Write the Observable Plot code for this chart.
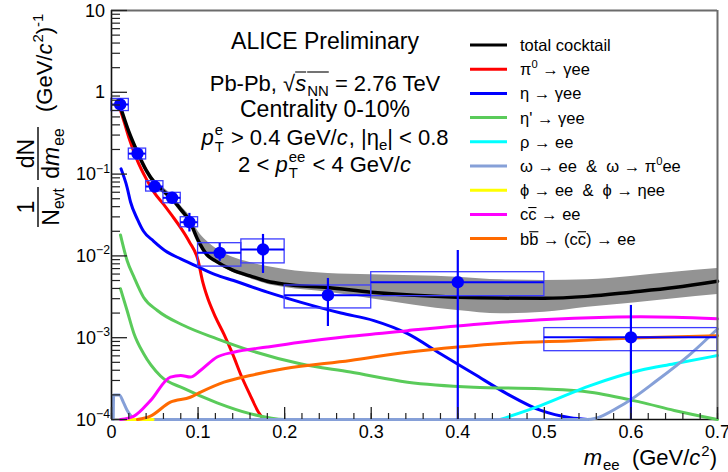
<!DOCTYPE html>
<html><head><meta charset="utf-8">
<script src="https://cdn.jsdelivr.net/npm/d3@7"></script>
<script src="https://cdn.jsdelivr.net/npm/@observablehq/plot@0.6"></script>
<style>body{margin:0;background:#fff}svg{display:block}</style>
</head><body><div id="chart"></div>
<script>
// ---------- data ----------
const xDomain = [0, 0.7];
const yDomain = [1e-4, 10];
const majorX = [0, 0.1, 0.2, 0.3, 0.4, 0.5, 0.6, 0.7];
const majorY = [1e-4, 1e-3, 1e-2, 1e-1, 1, 10];
const yTickLabels = ["10^{−4}", "10^{−3}", "10^{−2}", "10^{−1}", "1", "10"];

// data points
const ptX    = [0.01, 0.03, 0.05, 0.07, 0.09, 0.125, 0.175, 0.25, 0.4, 0.6];
const ptXlo  = [0, 0.02, 0.04, 0.06, 0.08, 0.1, 0.15, 0.2, 0.3, 0.5];
const ptXhi  = [0.02, 0.04, 0.06, 0.08, 0.1, 0.15, 0.2, 0.3, 0.5, 0.7];
const ptY    = [0.71, 0.178, 0.0705, 0.0513, 0.0258, 0.0109, 0.0120, 0.00331, 0.00477, 0.00101];
const statLo = [0.68, 0.170, 0.067, 0.049, 0.0196, 0.0086, 0.0061, 0.00137, 0.00005, 0.00005];
const statHi = [0.74, 0.186, 0.074, 0.054, 0.0331, 0.0142, 0.0183, 0.0053, 0.01164, 0.00248];
const sysLo  = [0.59, 0.151, 0.0612, 0.044, 0.0224, 0.0074, 0.0081, 0.00228, 0.00322, 0.000684];
const sysHi  = [0.83, 0.205, 0.0819, 0.059, 0.0297, 0.0143, 0.0159, 0.00435, 0.00632, 0.00131];

// total cocktail and its uncertainty band
const totalX = [0.01,0.02,0.03,0.04,0.05,0.06,0.07,0.08,0.09,0.1,0.11,0.12,0.14,0.16,0.18,0.2,0.25,0.3,0.35,0.4,0.45,0.5,0.55,0.6,0.65,0.7];
const totalY = [0.68,0.33,0.185,0.112,0.078,0.062,0.05,0.037,0.027,0.0155,0.0104,0.0087,0.0067,0.0057,0.0049,0.0045,0.0041,0.0036,0.0033,0.00313,0.00305,0.00303,0.0032,0.0036,0.0041,0.0049];
const bandHi = [0.74,0.36,0.20,0.122,0.085,0.068,0.055,0.041,0.031,0.020,0.0152,0.0125,0.0096,0.0083,0.0074,0.0068,0.0061,0.0059,0.0057,0.0055,0.0051,0.0050,0.0051,0.0056,0.0063,0.0070];
const bandLo = [0.62,0.30,0.17,0.103,0.072,0.057,0.046,0.034,0.025,0.0148,0.0100,0.0083,0.0063,0.0053,0.0045,0.0041,0.0036,0.0030,0.0025,0.00215,0.00196,0.00205,0.00236,0.00264,0.0030,0.00337];

// cocktail components
const pi0X = [0.01,0.015,0.02,0.03,0.04,0.05,0.06,0.07,0.08,0.09,0.1,0.105,0.11,0.12,0.13,0.14,0.15,0.16,0.17,0.176];
const pi0Y = [0.62,0.42,0.28,0.145,0.088,0.058,0.043,0.031,0.022,0.0148,0.0088,0.005,0.0033,0.0018,0.0011,0.00063,0.00034,0.0002,0.000122,0.0001];
const etaX = [0.011,0.018,0.022,0.03,0.037,0.0485,0.064,0.08,0.103,0.12,0.141,0.18,0.218,0.265,0.303,0.342,0.38,0.4185,0.457,0.496,0.53,0.55];
const etaY = [0.116,0.069,0.0456,0.028,0.020,0.0152,0.0112,0.0092,0.0071,0.0059,0.005,0.0036,0.00272,0.002,0.00162,0.00112,0.000636,0.000362,0.000206,0.000129,0.000105,0.0001];
const etaPX = [0.0104,0.018,0.026,0.037,0.053,0.0835,0.122,0.16,0.218,0.276,0.342,0.4185,0.496,0.553,0.611,0.65,0.7];
const etaPY = [0.018,0.0088,0.0055,0.00313,0.00215,0.00141,0.00097,0.0007,0.00048,0.00038,0.000286,0.000248,0.000237,0.000216,0.000163,0.000129,0.0001];
const etaP2X = [0.0104,0.018,0.026,0.037,0.0566,0.0835,0.122,0.16,0.2,0.21];
const etaP2Y = [0.00396,0.00215,0.00112,0.00064,0.00034,0.00024,0.00016,0.000118,0.0001,0.0001];
const rhoX = [0.449,0.4956,0.553,0.611,0.65,0.7];
const rhoY = [0.0001,0.000148,0.00026,0.0004,0.00048,0.000605];
const omegaX = [0.002,0.0025,0.009,0.014,0.018,0.022,0.026,0.1,0.3,0.5,0.5495,0.592,0.63,0.669,0.7];
const omegaY = [0.0001,0.0002,0.0002,0.00016,0.00013,0.000112,0.0001,0.0001,0.0001,0.0001,0.0001,0.000155,0.0003,0.000636,0.00128];
const phiX = [0.015,0.048];
const phiY = [0.0001,0.0001];
const ccX = [0.0104,0.026,0.045,0.068,0.08,0.091,0.103,0.122,0.141,0.18,0.218,0.276,0.342,0.4185,0.496,0.573,0.611,0.65,0.7];
const ccY = [0.0001,0.00011,0.00017,0.00033,0.000345,0.00033,0.0004,0.00058,0.000665,0.00077,0.00088,0.00104,0.00122,0.00145,0.00166,0.00178,0.0018,0.00178,0.0017];
const bbX = [0.03,0.045,0.068,0.091,0.103,0.13,0.16,0.199,0.276,0.342,0.4,0.457,0.534,0.611,0.7];
const bbY = [0.0001,0.00011,0.000163,0.000187,0.000216,0.000286,0.000345,0.000417,0.000527,0.000665,0.00077,0.000857,0.00092,0.001,0.00106];

// legend
const legendLabels = ["total cocktail", "π^{0} → γee", "η → γee", "η' → γee", "ρ → ee",
  "ω → ee  &  ω → π^{0}ee", "ϕ → ee  &  ϕ → ηee", "c~{c} → ee", "b~{b} → (c~{c}) → ee"];
const legendColors = ["#000000", "#ff0000", "#0000ff", "#5acb5a", "#00ffff", "#86a0d8", "#ffff00", "#ff00ff", "#ff6a00"];

const infoLines = ["ALICE Preliminary", "Pb-Pb, √~{*{s}_{NN}} = 2.76 TeV", "Centrality 0-10%",
  "*{p}@{e|T} > 0.4 GeV/*{c}, |η_{e}| < 0.8", "2 < *{p}@{ee|T} < 4 GeV/*{c}"];

// ---------- build tables ----------
const zip = (xs, ys) => xs.map((x, i) => ({x, y: ys[i]}));
const points = ptX.map((x, i) => ({x, y: ptY[i], xlo: ptXlo[i], xhi: ptXhi[i], slo: statLo[i], shi: statHi[i], ylo: sysLo[i], yhi: sysHi[i]}));
const band = totalX.map((x, i) => ({x, lo: bandLo[i], hi: bandHi[i]}));
const curves = [
  {d: zip(pi0X, pi0Y), c: legendColors[1]},
  {d: zip(etaX, etaY), c: legendColors[2]},
  {d: zip(etaPX, etaPY), c: legendColors[3]},
  {d: zip(etaP2X, etaP2Y), c: legendColors[3]},
  {d: zip(rhoX, rhoY), c: legendColors[4]},
  {d: zip(omegaX, omegaY), c: legendColors[5]},
  {d: zip(phiX, phiY), c: legendColors[6]},
  {d: zip(ccX, ccY), c: legendColors[7]},
  {d: zip(bbX, bbY), c: legendColors[8]},
  {d: zip(totalX, totalY), c: legendColors[0], w: 3.5}
];
const minorX = d3.range(0, 0.7001, 0.02).map(v => +v.toFixed(3));
const minorY = [];
for (let k = -4; k <= 0; k++) for (let m = 2; m <= 9; m++) minorY.push(m * Math.pow(10, k));

const FONT = "'Liberation Sans', Arial, Helvetica, sans-serif";
const blue = "#0000ff";

const plot = Plot.plot({
  width: 728, height: 472,
  marginLeft: 111, marginRight: 11, marginTop: 10, marginBottom: 53,
  x: {domain: xDomain, axis: null},
  y: {type: "log", domain: yDomain, axis: null},
  style: {fontFamily: FONT, background: "white", color: "black"},
  marks: [
    Plot.ruleY([yDomain[0]], {stroke: "#111", strokeWidth: 1.4}),
    Plot.areaY(band, {x: "x", y1: "lo", y2: "hi", fill: "#939393", curve: "monotone-x"}),
    ...curves.map(c => Plot.line(c.d, {x: "x", y: "y", stroke: c.c, strokeWidth: c.w || 3, curve: "monotone-x"})),
    Plot.rect(points, {x1: "xlo", x2: "xhi", y1: "ylo", y2: "yhi", fill: "none", stroke: "#3c3cff", strokeWidth: 1.3}),
    Plot.ruleY(points, {x1: "xlo", x2: "xhi", y: "y", stroke: blue, strokeWidth: 2}),
    Plot.ruleX(points, {x: "x", y1: "slo", y2: "shi", stroke: blue, strokeWidth: 2.2, clip: true}),
    Plot.dot(points, {x: "x", y: "y", r: 6.2, fill: blue}),
    // frame
    Plot.ruleX([xDomain[1]], {stroke: "#6b6b6b", strokeWidth: 2}),
    Plot.ruleY([yDomain[1]], {stroke: "#6b6b6b", strokeWidth: 2}),
    Plot.ruleX([xDomain[0]], {stroke: "#111", strokeWidth: 1.6}),
    // ticks inside the frame
    Plot.axisX({ticks: majorX, tickSize: 12, dy: -12, tickFormat: () => "", stroke: "#222", strokeWidth: 1.3}),
    Plot.axisX({ticks: minorX, tickSize: 6, dy: -6, tickFormat: () => "", stroke: "#222", strokeWidth: 1.2}),
    Plot.axisY({ticks: majorY, tickSize: 16, dx: 16, tickFormat: () => "", stroke: "#222", strokeWidth: 1.3}),
    Plot.axisY({ticks: minorY, tickSize: 9, dx: 9, tickFormat: () => "", stroke: "#222", strokeWidth: 1.2}),
    // x tick labels
    Plot.axisX({ticks: majorX, tickSize: 0, tickPadding: 6, fontSize: 18,
      tickFormat: d => d === 0 ? "0" : d3.format(".1f")(d)})
  ]
});
document.getElementById("chart").appendChild(plot);

// ---------- rich text helper ----------
function parseRich(str) {
  const segs = []; let i = 0;
  function parse(style) {
    let buf = "";
    const flush = () => { if (buf) { segs.push({t: buf, ...style}); buf = ""; } };
    while (i < str.length) {
      const c = str[i];
      if (c === "}") { i++; flush(); return; }
      if ("^_~*".includes(c) && str[i + 1] === "{") {
        flush(); i += 2;
        const ns = {...style};
        if (c === "^") ns.sup = true;
        if (c === "_") ns.sub = true;
        if (c === "~") ns.ol = true;
        if (c === "*") ns.italic = true;
        parse(ns); continue;
      }
      if (c === "@" && str[i + 1] === "{") {
        flush(); i += 2;
        const j = str.indexOf("}", i);
        segs.push({stack: str.slice(i, j).split("|"), ...style});
        i = j + 1; continue;
      }
      buf += c; i++;
    }
    flush();
  }
  parse({});
  return segs;
}
function drawRich(parent, str, {x = 0, y = 0, size = 20, anchor = "start", fill = "#000", olY = -0.8}) {
  const segs = parseRich(str);
  const g = parent.append("g").attr("font-family", FONT).attr("fill", fill).attr("text-anchor", "start");
  let cx = 0;
  const sc = 0.68;
  const mk = (tx, yy, fs, it) => g.append("text").attr("xml:space", "preserve")
      .attr("text-anchor", "start")
      .attr("x", cx).attr("y", yy).attr("font-size", fs)
      .attr("font-style", it ? "italic" : null).text(tx);
  for (const s of segs) {
    if (s.stack) {
      const a = mk(s.stack[0], -0.45 * size, size * sc, false);
      const b = mk(s.stack[1], 0.3 * size, size * sc, false);
      cx += Math.max(a.node().getComputedTextLength(), b.node().getComputedTextLength()) + 1;
      continue;
    }
    const small = s.sub || s.sup;
    const fs = small ? size * sc : size;
    const yy = s.sup ? -0.42 * size : s.sub ? 0.22 * size : 0;
    const t = mk(s.t, yy, fs, s.italic);
    const w = t.node().getComputedTextLength();
    if (s.ol) g.append("line").attr("x1", cx).attr("x2", cx + w)
      .attr("y1", olY * size).attr("y2", olY * size).attr("stroke", fill).attr("stroke-width", 1.1);
    cx += w + (s.italic ? 1 : 0);
  }
  const shift = anchor === "middle" ? -cx / 2 : anchor === "end" ? -cx : 0;
  g.attr("transform", `translate(${x + shift},${y})`);
  return g;
}

const svg = d3.select(plot);
const ys = plot.scale("y");

// y tick labels
majorY.forEach((v, i) => {
  const lab = yTickLabels[i];
  const pow = lab.includes("^");
  drawRich(svg, lab, {x: pow ? 110 : 105, y: ys.apply(v) + 6.5, size: 18, anchor: "end"});
});

// axis titles
drawRich(svg, "*{m}_{ee}  (GeV/*{c}^{2})", {x: 717, y: 465, size: 22, anchor: "end"});
const yt = svg.append("g").attr("transform", "translate(38,227) rotate(-90)");
drawRich(yt, "1", {x: 20, y: -4, size: 23, anchor: "middle"});
yt.append("line").attr("x1", 0).attr("x2", 40).attr("stroke", "#000").attr("stroke-width", 1.4);
drawRich(yt, "N_{evt}", {x: 20, y: 21, size: 23, anchor: "middle"});
drawRich(yt, "dN", {x: 73.5, y: -4, size: 23, anchor: "middle"});
yt.append("line").attr("x1", 47).attr("x2", 100).attr("stroke", "#000").attr("stroke-width", 1.4);
drawRich(yt, "d*{m}_{ee}", {x: 73.5, y: 21, size: 23, anchor: "middle"});
drawRich(yt, "(GeV/*{c}^{2})^{-1}", {x: 115, y: 14, size: 22, anchor: "start"});

// info text
const infoY = [49, 90.7, 116.7, 145, 171.7];
const infoSize = [23, 22, 23, 22, 22];
infoLines.forEach((t, i) => drawRich(svg, t, {x: 325, y: infoY[i], size: infoSize[i], anchor: "middle", olY: -0.85}));

// legend
legendLabels.forEach((t, i) => {
  const cy = 45 + i * 24.2;
  svg.append("line").attr("x1", 470).attr("x2", 507).attr("y1", cy).attr("y2", cy)
    .attr("stroke", legendColors[i]).attr("stroke-width", 3);
  drawRich(svg, t, {x: 520, y: cy + 6, size: 16.5, anchor: "start", olY: -0.78});
});
</script></body></html>
